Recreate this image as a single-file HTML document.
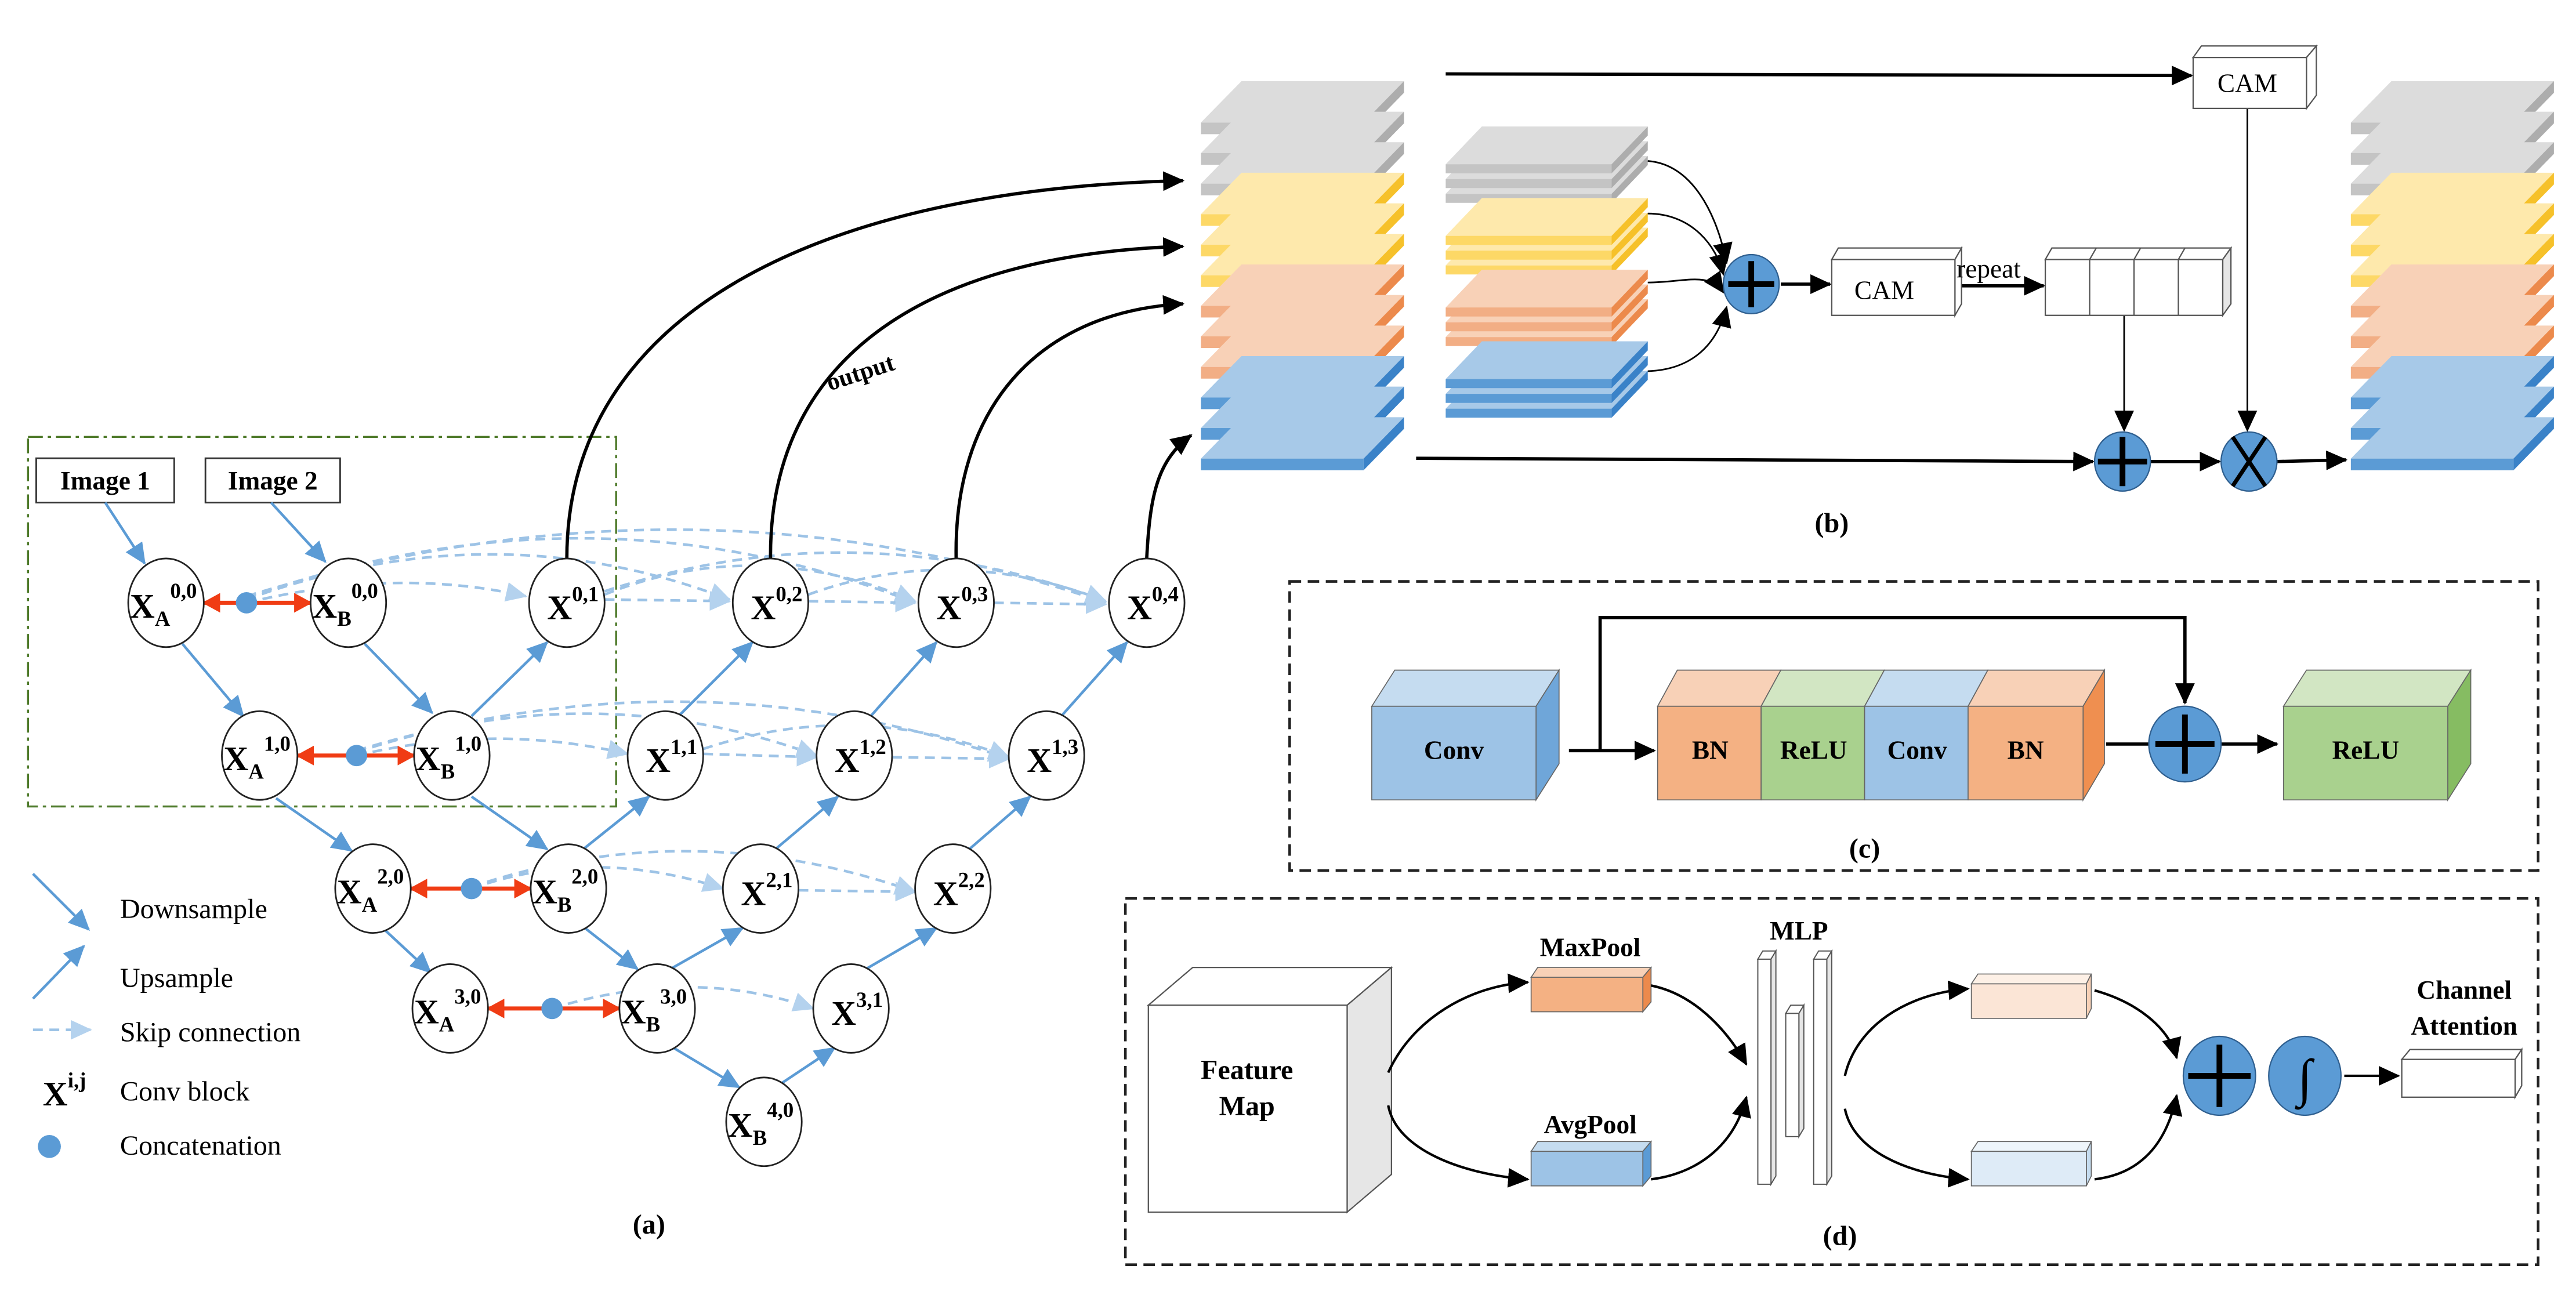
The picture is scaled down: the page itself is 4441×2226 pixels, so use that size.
<!DOCTYPE html>
<html><head><meta charset="utf-8"><style>html,body{margin:0;padding:0;background:#fff}svg{display:block}</style></head><body>
<svg xmlns="http://www.w3.org/2000/svg" width="4441" height="2226" viewBox="0 0 1568 786" font-family="'Liberation Serif', serif">
<defs>
<marker id="ab" markerUnits="userSpaceOnUse" markerWidth="14" markerHeight="12" refX="12" refY="6" orient="auto"><path d="M0,0 L13,6 L0,12 Z" fill="#5b9bd5"/></marker>
<marker id="al" markerUnits="userSpaceOnUse" markerWidth="14" markerHeight="12" refX="12" refY="6" orient="auto"><path d="M0,0 L13,6 L0,12 Z" fill="#b4d2ee"/></marker>
<marker id="ak" markerUnits="userSpaceOnUse" markerWidth="14" markerHeight="12" refX="12" refY="6" orient="auto"><path d="M0,0 L13,6 L0,12 Z" fill="#000"/></marker>
<marker id="ar" markerUnits="userSpaceOnUse" markerWidth="12" markerHeight="12" refX="10" refY="6" orient="auto-start-reverse"><path d="M0,0 L11,6 L0,12 Z" fill="#f03c14"/></marker>
<g id="Lg"><polygon points="0,25.2 24.7,0 123.6,0 99,25.2" fill="#dcdcdc"/><rect x="0" y="25.2" width="99" height="7.1" fill="#c4c4c4"/><polygon points="99,25.2 123.6,0 123.6,7.1 99,32.3" fill="#adadad"/></g>
<g id="Ly"><polygon points="0,25.2 24.7,0 123.6,0 99,25.2" fill="#fee9ac"/><rect x="0" y="25.2" width="99" height="7.1" fill="#fdd866"/><polygon points="99,25.2 123.6,0 123.6,7.1 99,32.3" fill="#f6c12a"/></g>
<g id="Lo"><polygon points="0,25.2 24.7,0 123.6,0 99,25.2" fill="#f8d1b7"/><rect x="0" y="25.2" width="99" height="7.1" fill="#f2ae85"/><polygon points="99,25.2 123.6,0 123.6,7.1 99,32.3" fill="#ec8a4c"/></g>
<g id="Lb"><polygon points="0,25.2 24.7,0 123.6,0 99,25.2" fill="#a7c9e8"/><rect x="0" y="25.2" width="99" height="7.1" fill="#5b9bd5"/><polygon points="99,25.2 123.6,0 123.6,7.1 99,32.3" fill="#3a82c8"/></g>
<g id="Mg"><polygon points="0,23 22,0 123,0 101,23" fill="#dcdcdc"/><rect x="0" y="23" width="101" height="5.5" fill="#c4c4c4"/><polygon points="101,23 123,0 123,5.5 101,28.5" fill="#adadad"/></g>
<g id="My"><polygon points="0,23 22,0 123,0 101,23" fill="#fee9ac"/><rect x="0" y="23" width="101" height="5.5" fill="#fdd866"/><polygon points="101,23 123,0 123,5.5 101,28.5" fill="#f6c12a"/></g>
<g id="Mo"><polygon points="0,23 22,0 123,0 101,23" fill="#f8d1b7"/><rect x="0" y="23" width="101" height="5.5" fill="#f2ae85"/><polygon points="101,23 123,0 123,5.5 101,28.5" fill="#ec8a4c"/></g>
<g id="Mb"><polygon points="0,23 22,0 123,0 101,23" fill="#a7c9e8"/><rect x="0" y="23" width="101" height="5.5" fill="#5b9bd5"/><polygon points="101,23 123,0 123,5.5 101,28.5" fill="#3a82c8"/></g>
</defs>

<!-- ===== (a) ===== -->
<rect x="17" y="266" width="358" height="225" fill="none" stroke="#4e7a2a" stroke-width="1.2" stroke-dasharray="9,3,2,3"/>
<rect x="22" y="279" width="84" height="27" fill="#fff" stroke="#333" stroke-width="1"/>
<text x="64" y="298" font-size="16" font-weight="bold" text-anchor="middle">Image 1</text>
<rect x="125" y="279" width="82" height="27" fill="#fff" stroke="#333" stroke-width="1"/>
<text x="166" y="298" font-size="16" font-weight="bold" text-anchor="middle">Image 2</text>

<g fill="none" stroke="#9dc3e6" stroke-width="1.6" stroke-dasharray="6,4" marker-end="url(#al)">
<path d="M150,367 Q240,345 320,363"/>
<path d="M150,365 Q300,310 444,365"/>
<path d="M150,364 Q360,290 557,367"/>
<path d="M150,363 Q420,280 673,367"/>
<path d="M368,365 L444,366"/>
<path d="M368,362 Q460,325 557,366"/>
<path d="M368,360 Q520,310 673,366"/>
<path d="M492,366 L557,367"/>
<path d="M492,362 Q580,330 673,366"/>
<path d="M605,367 L673,368"/>
<path d="M217,460 Q300,440 382,459"/>
<path d="M217,458 Q360,410 497,460"/>
<path d="M217,457 Q420,395 614,462"/>
<path d="M428,459 L497,461"/>
<path d="M428,456 Q520,425 614,461"/>
<path d="M543,461 L614,462"/>
<path d="M287,541 Q360,515 440,541"/>
<path d="M287,540 Q420,495 557,543"/>
<path d="M486,542 L557,543"/>
<path d="M336,614 Q420,588 495,614"/>
</g>

<g stroke="#5b9bd5" stroke-width="1.6" fill="none" marker-end="url(#ab)">
<path d="M64,306 L88,343"/><path d="M165,306 L198,342"/>
<path d="M111,392 L148,436"/><path d="M168,486 L214,518"/><path d="M234,566 L262,592"/>
<path d="M222,392 L263,434"/><path d="M287,485 L333,517"/><path d="M356,565 L388,590"/><path d="M410,638 L450,662"/>
<path d="M287,436 L333,391"/><path d="M413,436 L458,391"/><path d="M530,436 L570,391"/><path d="M646,436 L686,391"/>
<path d="M355,517 L395,485"/><path d="M472,517 L510,485"/><path d="M590,517 L627,485"/>
<path d="M408,590 L452,565"/><path d="M527,590 L570,565"/><path d="M475,660 L508,638"/>
</g>

<g stroke="#f03c14" stroke-width="2.5" marker-start="url(#ar)" marker-end="url(#ar)">
<line x1="124" y1="367" x2="189" y2="367"/>
<line x1="181" y1="460" x2="252" y2="460"/>
<line x1="250" y1="541" x2="323" y2="541"/>
<line x1="297" y1="614" x2="377" y2="614"/>
</g>
<g fill="#5b9bd5"><circle cx="150" cy="367" r="6.5"/><circle cx="217" cy="460" r="6.5"/><circle cx="287" cy="541" r="6.5"/><circle cx="336" cy="614" r="6.5"/></g>

<g stroke="#000" stroke-width="2" fill="none" marker-end="url(#ak)">
<path d="M345,340 C345,190 500,115 720,110"/>
<path d="M469,340 C468,220 560,155 720,150"/>
<path d="M582,341 C580,250 630,190 720,185"/>
<path d="M698,340 C700,300 705,280 725,265"/>
</g>
<text x="505" y="238" font-size="15" font-weight="bold" transform="rotate(-18 505 238)">output</text>

<g fill="#fff" stroke="#222" stroke-width="1">
<ellipse cx="101" cy="367" rx="23" ry="27"/><ellipse cx="212" cy="367" rx="23" ry="27"/><ellipse cx="345" cy="367" rx="23" ry="27"/><ellipse cx="469" cy="367" rx="23" ry="27"/><ellipse cx="582" cy="367" rx="23" ry="27"/><ellipse cx="698" cy="367" rx="23" ry="27"/>
<ellipse cx="158" cy="460" rx="23" ry="27"/><ellipse cx="275" cy="460" rx="23" ry="27"/><ellipse cx="405" cy="460" rx="23" ry="27"/><ellipse cx="520" cy="460" rx="23" ry="27"/><ellipse cx="637" cy="460" rx="23" ry="27"/>
<ellipse cx="227" cy="541" rx="23" ry="27"/><ellipse cx="346" cy="541" rx="23" ry="27"/><ellipse cx="463" cy="541" rx="23" ry="27"/><ellipse cx="580" cy="541" rx="23" ry="27"/>
<ellipse cx="274" cy="614" rx="23" ry="27"/><ellipse cx="400" cy="614" rx="23" ry="27"/><ellipse cx="518" cy="614" rx="23" ry="27"/>
<ellipse cx="465" cy="683" rx="23" ry="27"/>
</g>
<g font-size="21" font-weight="bold">
<text x="79" y="376">X<tspan font-size="13" dy="5">A</tspan><tspan font-size="13" dy="-17">0,0</tspan></text>
<text x="190" y="376">X<tspan font-size="13" dy="5">B</tspan><tspan font-size="13" dy="-17">0,0</tspan></text>
<text x="136" y="469">X<tspan font-size="13" dy="5">A</tspan><tspan font-size="13" dy="-17">1,0</tspan></text>
<text x="253" y="469">X<tspan font-size="13" dy="5">B</tspan><tspan font-size="13" dy="-17">1,0</tspan></text>
<text x="205" y="550">X<tspan font-size="13" dy="5">A</tspan><tspan font-size="13" dy="-17">2,0</tspan></text>
<text x="324" y="550">X<tspan font-size="13" dy="5">B</tspan><tspan font-size="13" dy="-17">2,0</tspan></text>
<text x="252" y="623">X<tspan font-size="13" dy="5">A</tspan><tspan font-size="13" dy="-17">3,0</tspan></text>
<text x="378" y="623">X<tspan font-size="13" dy="5">B</tspan><tspan font-size="13" dy="-17">3,0</tspan></text>
<text x="443" y="692">X<tspan font-size="13" dy="5">B</tspan><tspan font-size="13" dy="-17">4,0</tspan></text>
<text x="333" y="377">X<tspan font-size="13" dy="-11">0,1</tspan></text>
<text x="457" y="377">X<tspan font-size="13" dy="-11">0,2</tspan></text>
<text x="570" y="377">X<tspan font-size="13" dy="-11">0,3</tspan></text>
<text x="686" y="377">X<tspan font-size="13" dy="-11">0,4</tspan></text>
<text x="393" y="470">X<tspan font-size="13" dy="-11">1,1</tspan></text>
<text x="508" y="470">X<tspan font-size="13" dy="-11">1,2</tspan></text>
<text x="625" y="470">X<tspan font-size="13" dy="-11">1,3</tspan></text>
<text x="451" y="551">X<tspan font-size="13" dy="-11">2,1</tspan></text>
<text x="568" y="551">X<tspan font-size="13" dy="-11">2,2</tspan></text>
<text x="506" y="624">X<tspan font-size="13" dy="-11">3,1</tspan></text>
</g>

<line x1="20" y1="532" x2="54" y2="566" stroke="#5b9bd5" stroke-width="1.6" marker-end="url(#ab)"/>
<text x="73" y="559" font-size="17">Downsample</text>
<line x1="20" y1="608" x2="51" y2="576" stroke="#5b9bd5" stroke-width="1.6" marker-end="url(#ab)"/>
<text x="73" y="601" font-size="17">Upsample</text>
<line x1="20" y1="627" x2="55" y2="627" stroke="#9dc3e6" stroke-width="1.6" stroke-dasharray="6,4" marker-end="url(#al)"/>
<text x="73" y="634" font-size="17">Skip connection</text>
<text x="26" y="673" font-size="21" font-weight="bold">X<tspan font-size="13" dy="-11">i,j</tspan></text>
<text x="73" y="670" font-size="17">Conv block</text>
<circle cx="30" cy="698" r="7" fill="#5b9bd5"/>
<text x="73" y="703" font-size="17">Concatenation</text>
<text x="395" y="751" font-size="17" font-weight="bold" text-anchor="middle">(a)</text>

<!-- ===== (b) ===== -->
<g>
<use href="#Lg" x="731" y="49.4"/><use href="#Lg" x="731" y="68"/><use href="#Lg" x="731" y="86.6"/>
<use href="#Ly" x="731" y="105.2"/><use href="#Ly" x="731" y="123.8"/><use href="#Ly" x="731" y="142.4"/>
<use href="#Lo" x="731" y="161"/><use href="#Lo" x="731" y="179.6"/><use href="#Lo" x="731" y="198.2"/>
<use href="#Lb" x="731" y="216.8"/><use href="#Lb" x="731" y="235.4"/><use href="#Lb" x="731" y="254"/>
</g>
<g>
<use href="#Lg" x="1431" y="49.4"/><use href="#Lg" x="1431" y="68"/><use href="#Lg" x="1431" y="86.6"/>
<use href="#Ly" x="1431" y="105.2"/><use href="#Ly" x="1431" y="123.8"/><use href="#Ly" x="1431" y="142.4"/>
<use href="#Lo" x="1431" y="161"/><use href="#Lo" x="1431" y="179.6"/><use href="#Lo" x="1431" y="198.2"/>
<use href="#Lb" x="1431" y="216.8"/><use href="#Lb" x="1431" y="235.4"/><use href="#Lb" x="1431" y="254"/>
</g>
<g>
<use href="#Mg" x="880" y="95"/><use href="#Mg" x="880" y="86"/><use href="#Mg" x="880" y="77"/>
<use href="#My" x="880" y="138.6"/><use href="#My" x="880" y="129.6"/><use href="#My" x="880" y="120.6"/>
<use href="#Mo" x="880" y="182.2"/><use href="#Mo" x="880" y="173.2"/><use href="#Mo" x="880" y="164.2"/>
<use href="#Mb" x="880" y="225.8"/><use href="#Mb" x="880" y="216.8"/><use href="#Mb" x="880" y="207.8"/>
</g>
<g stroke="#000" stroke-width="2" fill="none" marker-end="url(#ak)">
<line x1="880" y1="45" x2="1334" y2="46"/>
<line x1="862" y1="279" x2="1274" y2="281"/>
<line x1="1309" y1="281" x2="1351" y2="281"/>
<line x1="1386" y1="281" x2="1428" y2="280"/>
<line x1="1084" y1="173" x2="1114" y2="173"/>
<line x1="1191" y1="174" x2="1244" y2="174"/>
</g>
<g stroke="#000" stroke-width="1" fill="none" marker-end="url(#ak)">
<line x1="1368" y1="66" x2="1368" y2="262"/>
<line x1="1293" y1="192" x2="1293" y2="262"/>
<path d="M1003,98 C1030,100 1045,130 1051,160"/>
<path d="M1003,130 C1030,130 1045,150 1049,167"/>
<path d="M1003,172 C1025,172 1040,165 1049,178"/>
<path d="M1003,226 C1030,225 1045,210 1051,187"/>
</g>
<polygon points="1335,35 1340,28 1410,28 1404,35" fill="#fff" stroke="#555" stroke-width="0.8"/>
<polygon points="1404,35 1410,28 1410,58 1404,66" fill="#fff" stroke="#555" stroke-width="0.8"/>
<rect x="1335" y="35" width="69" height="31" fill="#fff" stroke="#555" stroke-width="0.8"/>
<text x="1368" y="56" font-size="16" text-anchor="middle">CAM</text>
<polygon points="1115,158 1119,151 1194,151 1190,158" fill="#fff" stroke="#555" stroke-width="0.8"/>
<polygon points="1190,158 1194,151 1194,185 1190,192" fill="#fff" stroke="#555" stroke-width="0.8"/>
<rect x="1115" y="158" width="75" height="34" fill="#fff" stroke="#555" stroke-width="0.8"/>
<text x="1147" y="182" font-size="16" text-anchor="middle">CAM</text>
<text x="1191" y="169" font-size="16">repeat</text>
<polygon points="1245,158 1249,151 1358,151 1353,158" fill="#fff" stroke="#555" stroke-width="0.8"/>
<polygon points="1353,158 1358,151 1358,185 1353,192" fill="#e6e6e6" stroke="#555" stroke-width="0.8"/>
<rect x="1245" y="158" width="108" height="34" fill="#fff" stroke="#555" stroke-width="0.8"/>
<g stroke="#555" stroke-width="0.8"><line x1="1272" y1="158" x2="1272" y2="192"/><line x1="1299" y1="158" x2="1299" y2="192"/><line x1="1326" y1="158" x2="1326" y2="192"/>
<line x1="1276" y1="151" x2="1272" y2="158"/><line x1="1303" y1="151" x2="1299" y2="158"/><line x1="1330" y1="151" x2="1326" y2="158"/></g>
<ellipse cx="1066" cy="173" rx="17" ry="18" fill="#5b9bd5" stroke="#2f5f8f" stroke-width="0.8"/>
<path d="M1066,159 V187 M1052,173 H1080" stroke="#000" stroke-width="3.5"/>
<ellipse cx="1292" cy="281" rx="17" ry="18" fill="#5b9bd5" stroke="#2f5f8f" stroke-width="0.8"/>
<path d="M1292,266 V296 M1277,281 H1307" stroke="#000" stroke-width="3.5"/>
<ellipse cx="1369" cy="281" rx="17" ry="18" fill="#5b9bd5" stroke="#2f5f8f" stroke-width="0.8"/>
<path d="M1359,266 L1379,296 M1379,266 L1359,296" stroke="#000" stroke-width="2.5"/>
<text x="1115" y="324" font-size="17" font-weight="bold" text-anchor="middle">(b)</text>

<!-- ===== (c) ===== -->
<rect x="785" y="354" width="760" height="176" fill="none" stroke="#222" stroke-width="1.6" stroke-dasharray="7,4"/>
<polygon points="835,430 849,408 949,408 935,430" fill="#c5dcf0" stroke="#666" stroke-width="0.6"/>
<polygon points="935,430 949,408 949,465 935,487" fill="#6fa6d9" stroke="#666" stroke-width="0.6"/>
<rect x="835" y="430" width="100" height="57" fill="#9dc3e6" stroke="#666" stroke-width="0.6"/>
<text x="885" y="462" font-size="16" font-weight="bold" text-anchor="middle">Conv</text>
<polygon points="1009,430 1021,408 1084,408 1072,430" fill="#f8d1b7" stroke="#666" stroke-width="0.6"/>
<polygon points="1072,430 1084,408 1147,408 1135,430" fill="#d2e6c3" stroke="#666" stroke-width="0.6"/>
<polygon points="1135,430 1147,408 1210,408 1198,430" fill="#c5dcf0" stroke="#666" stroke-width="0.6"/>
<polygon points="1198,430 1210,408 1281,408 1268,430" fill="#f8d1b7" stroke="#666" stroke-width="0.6"/>
<polygon points="1268,430 1281,408 1281,465 1268,487" fill="#ef8f50" stroke="#666" stroke-width="0.6"/>
<rect x="1009" y="430" width="63" height="57" fill="#f4b183" stroke="#666" stroke-width="0.6"/>
<rect x="1072" y="430" width="63" height="57" fill="#a9d18e" stroke="#666" stroke-width="0.6"/>
<rect x="1135" y="430" width="63" height="57" fill="#9dc3e6" stroke="#666" stroke-width="0.6"/>
<rect x="1198" y="430" width="70" height="57" fill="#f4b183" stroke="#666" stroke-width="0.6"/>
<g font-size="16" font-weight="bold" text-anchor="middle"><text x="1041" y="462">BN</text><text x="1104" y="462">ReLU</text><text x="1167" y="462">Conv</text><text x="1233" y="462">BN</text></g>
<polygon points="1390,430 1404,408 1504,408 1490,430" fill="#d2e6c3" stroke="#666" stroke-width="0.6"/>
<polygon points="1490,430 1504,408 1504,465 1490,487" fill="#86bc62" stroke="#666" stroke-width="0.6"/>
<rect x="1390" y="430" width="100" height="57" fill="#a9d18e" stroke="#666" stroke-width="0.6"/>
<text x="1440" y="462" font-size="16" font-weight="bold" text-anchor="middle">ReLU</text>
<g stroke="#000" stroke-width="2" fill="none">
<line x1="955" y1="457" x2="1007" y2="457" marker-end="url(#ak)"/>
<polyline points="974,457 974,376 1330,376 1330,428" marker-end="url(#ak)"/>
<line x1="1282" y1="453" x2="1308" y2="453"/>
<line x1="1352" y1="453" x2="1386" y2="453" marker-end="url(#ak)"/>
</g>
<ellipse cx="1330" cy="453" rx="22" ry="23" fill="#5b9bd5" stroke="#2f5f8f" stroke-width="0.8"/>
<path d="M1330,435 V471 M1312,453 H1348" stroke="#000" stroke-width="3.5"/>
<text x="1135" y="522" font-size="17" font-weight="bold" text-anchor="middle">(c)</text>

<!-- ===== (d) ===== -->
<rect x="685" y="547" width="860" height="223" fill="none" stroke="#222" stroke-width="1.6" stroke-dasharray="7,4"/>
<polygon points="699,612 726,589 847,589 820,612" fill="#fff" stroke="#555" stroke-width="0.8"/>
<polygon points="820,612 847,589 847,715 820,738" fill="#e6e6e6" stroke="#555" stroke-width="0.8"/>
<rect x="699" y="612" width="121" height="126" fill="#fff" stroke="#555" stroke-width="0.8"/>
<text x="759" y="657" font-size="17" font-weight="bold" text-anchor="middle">Feature</text>
<text x="759" y="679" font-size="17" font-weight="bold" text-anchor="middle">Map</text>
<text x="968" y="582" font-size="16" font-weight="bold" text-anchor="middle">MaxPool</text>
<polygon points="932,595 936,589 1005,589 1000,595" fill="#f8d1b7" stroke="#666" stroke-width="0.6"/>
<polygon points="1000,595 1005,589 1005,610 1000,616" fill="#ec8a4c" stroke="#666" stroke-width="0.6"/>
<rect x="932" y="595" width="68" height="21" fill="#f4b183" stroke="#666" stroke-width="0.6"/>
<text x="968" y="690" font-size="16" font-weight="bold" text-anchor="middle">AvgPool</text>
<polygon points="932,701 936,695 1005,695 1000,701" fill="#c5dcf0" stroke="#666" stroke-width="0.6"/>
<polygon points="1000,701 1005,695 1005,716 1000,722" fill="#5b9bd5" stroke="#666" stroke-width="0.6"/>
<rect x="932" y="701" width="68" height="21" fill="#9dc3e6" stroke="#666" stroke-width="0.6"/>
<text x="1095" y="572" font-size="16" font-weight="bold" text-anchor="middle">MLP</text>
<g fill="#fff" stroke="#555" stroke-width="0.7">
<polygon points="1070,584 1073,579 1081,579 1078,584"/><polygon points="1078,584 1081,579 1081,716 1078,721" fill="#e6e6e6"/><rect x="1070" y="584" width="8" height="137"/>
<polygon points="1087,617 1090,612 1098,612 1095,617"/><polygon points="1095,617 1098,612 1098,687 1095,692" fill="#e6e6e6"/><rect x="1087" y="617" width="8" height="75"/>
<polygon points="1104,584 1107,579 1115,579 1112,584"/><polygon points="1112,584 1115,579 1115,716 1112,721" fill="#e6e6e6"/><rect x="1104" y="584" width="8" height="137"/>
</g>
<polygon points="1200,599 1204,593 1273,593 1270,599" fill="#fdf0e6" stroke="#666" stroke-width="0.6"/>
<polygon points="1270,599 1273,593 1273,614 1270,620" fill="#f8d1b7" stroke="#666" stroke-width="0.6"/>
<rect x="1200" y="599" width="70" height="21" fill="#fbe5d6" stroke="#666" stroke-width="0.6"/>
<polygon points="1200,701 1204,695 1273,695 1270,701" fill="#eef5fb" stroke="#666" stroke-width="0.6"/>
<polygon points="1270,701 1273,695 1273,716 1270,722" fill="#c5dcf0" stroke="#666" stroke-width="0.6"/>
<rect x="1200" y="701" width="70" height="21" fill="#deebf7" stroke="#666" stroke-width="0.6"/>
<g stroke="#000" stroke-width="1.5" fill="none" marker-end="url(#ak)">
<path d="M845,653 C860,620 895,600 930,598"/>
<path d="M845,673 C850,700 890,715 930,718"/>
<path d="M1005,600 C1030,605 1050,625 1063,648"/>
<path d="M1005,718 C1030,715 1055,700 1063,668"/>
<path d="M1123,655 C1130,625 1160,605 1198,602"/>
<path d="M1123,675 C1128,700 1160,715 1198,718"/>
<path d="M1275,603 C1300,610 1320,625 1325,644"/>
<path d="M1275,718 C1300,715 1318,700 1325,667"/>
<line x1="1427" y1="655" x2="1460" y2="655"/>
</g>
<ellipse cx="1351" cy="655" rx="22" ry="24" fill="#5b9bd5" stroke="#2f5f8f" stroke-width="0.8"/>
<path d="M1351,636 V674 M1332,655 H1370" stroke="#000" stroke-width="3.5"/>
<ellipse cx="1403" cy="655" rx="22" ry="24" fill="#5b9bd5" stroke="#2f5f8f" stroke-width="0.8"/>
<text x="1403" y="667" font-size="32" font-style="italic" text-anchor="middle">∫</text>
<polygon points="1462,645 1467,639 1535,639 1531,645" fill="#fff" stroke="#555" stroke-width="0.8"/>
<polygon points="1531,645 1535,639 1535,661 1531,668" fill="#fff" stroke="#555" stroke-width="0.8"/>
<rect x="1462" y="645" width="69" height="23" fill="#fff" stroke="#555" stroke-width="0.8"/>
<text x="1500" y="608" font-size="16" font-weight="bold" text-anchor="middle">Channel</text>
<text x="1500" y="630" font-size="16" font-weight="bold" text-anchor="middle">Attention</text>
<text x="1120" y="758" font-size="17" font-weight="bold" text-anchor="middle">(d)</text>
</svg>
</body></html>
